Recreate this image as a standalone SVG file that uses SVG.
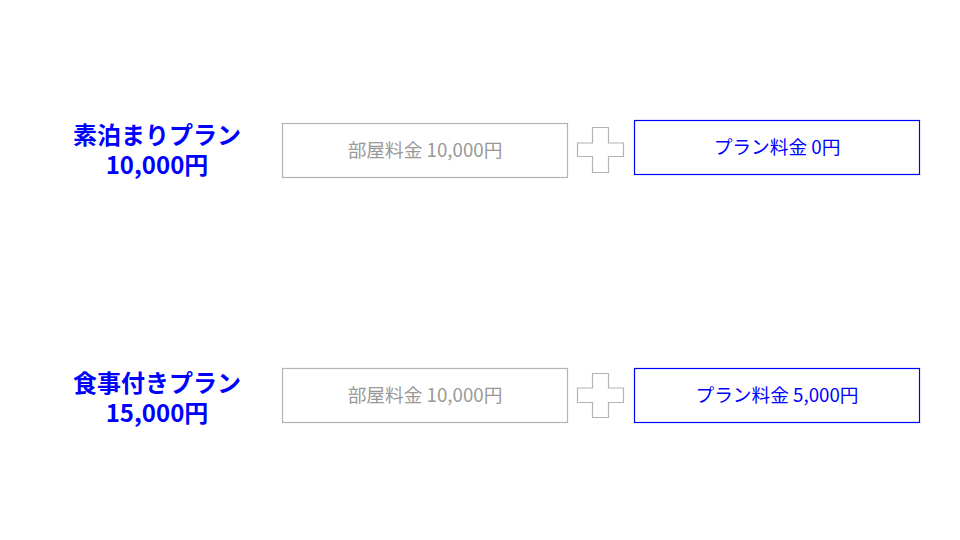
<svg xmlns="http://www.w3.org/2000/svg" width="960" height="540" viewBox="0 0 960 540">
<style>
.lbl{font-family:"Noto Sans CJK JP","Noto Sans",sans-serif;font-weight:bold;font-size:24px;fill:#0000ff;text-anchor:middle}
.gbox{fill:#fff;stroke:#b3b3b3;stroke-width:1.2}
.bbox{fill:#fff;stroke:#0000ff;stroke-width:1.2}
.gt{font-family:"Noto Sans CJK JP","Noto Sans",sans-serif;font-size:18.7px;fill:#999;text-anchor:middle}
.bt{font-family:"Noto Sans CJK JP","Noto Sans",sans-serif;font-size:18.7px;fill:#0000ff;text-anchor:middle}
.plus{fill:#fff;stroke:#b3b3b3;stroke-width:1.2}
</style>
<rect width="960" height="540" fill="#fff"/>
<g id="plan1-label">
<text class="lbl" x="157" y="144">素泊まりプラン</text>
<text class="lbl" x="157" y="174">10,000円</text>
</g>
<g id="plan1-room">
<rect class="gbox" x="282.5" y="123.5" width="285" height="54"/>
<text class="gt" x="425" y="157">部屋料金 10,000円</text>
</g>
<g id="plan1-plus">
<path class="plus" d="M592.5,127.5 H608.5 V143 H623.5 V156.5 H608.5 V172.5 H592.5 V156.5 H577.5 V143 H592.5 Z"/>
</g>
<g id="plan1-plan">
<rect class="bbox" x="634.5" y="120.5" width="285" height="54"/>
<text class="bt" x="777" y="154">プラン料金 0円</text>
</g>
<g id="plan2-label">
<text class="lbl" x="157" y="392">食事付きプラン</text>
<text class="lbl" x="157" y="422">15,000円</text>
</g>
<g id="plan2-room">
<rect class="gbox" x="282.5" y="368.5" width="285" height="54"/>
<text class="gt" x="425" y="402">部屋料金 10,000円</text>
</g>
<g id="plan2-plus">
<path class="plus" d="M592.5,373.5 H608.5 V388 H623.5 V402.5 H608.5 V417.5 H592.5 V402.5 H577.5 V388 H592.5 Z"/>
</g>
<g id="plan2-plan">
<rect class="bbox" x="634.5" y="368.5" width="285" height="54"/>
<text class="bt" x="777" y="402">プラン料金 5,000円</text>
</g>
<g id="connectors"></g>
</svg>
